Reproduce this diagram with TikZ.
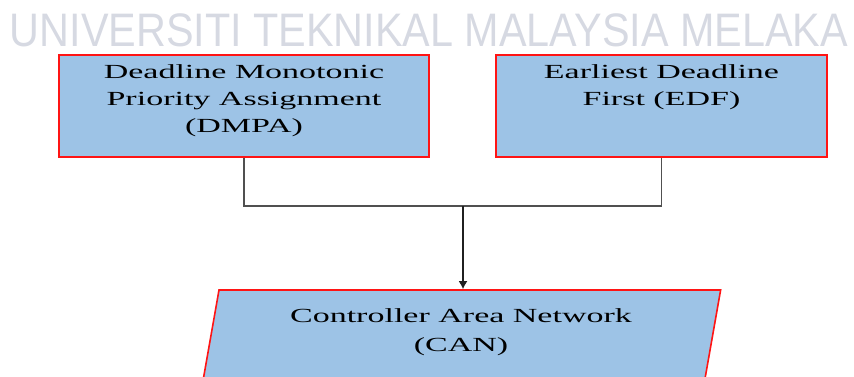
\documentclass[tikz,border=0pt]{standalone}
\usepackage{fontspec}
\usepackage{tikz}
\usetikzlibrary{arrows.meta,positioning,calc,shapes.geometric}
\setmainfont{Liberation Serif}
\newfontfamily\boxfont{Liberation Serif}[FakeStretch=1.7]
\newfontfamily\markfont{Liberation Sans}[FakeStretch=0.88]
\definecolor{BoxBlue}{RGB}{157,195,230}
\definecolor{BoxRed}{RGB}{255,20,20}
\definecolor{LinkGray}{RGB}{80,80,80}
\definecolor{MarkGray}{RGB}{214,217,226}

\begin{document}
\begin{tikzpicture}[x=1pt, y=-1pt,
    box/.style={draw=BoxRed, fill=BoxBlue, line width=1.6pt, inner sep=0pt, font=\boxfont\fontsize{20}{27}\selectfont},
    link/.style={draw=LinkGray, line width=1.5pt}]
        \useasboundingbox (0,0) rectangle (854,377);
        \node[MarkGray, font=\markfont\fontsize{47}{50}\selectfont] (mark) at (429,30) {UNIVERSITI TEKNIKAL MALAYSIA MELAKA};
        \node[box] (dmpa) at (244,106) {\parbox[c][102pt][t]{370pt}{\centering\vspace*{10pt}Deadline Monotonic\\Priority Assignment\\(DMPA)}};
        \node[box] (edf) at (661.5,106) {\parbox[c][102pt][t]{331pt}{\centering\vspace*{10pt}Earliest Deadline\\First (EDF)}};
        \node[box, trapezium, trapezium left angle=80, trapezium right angle=100] (can) at (461,340)
            {\parbox[c][100pt][t]{484pt}{\centering\vspace*{19pt}Controller Area Network\\[2pt](CAN)}};
        \coordinate (join) at (463,206);
        \draw[link] (dmpa.south) |- (edf.south |- join) -- (edf.south);
        \draw[link, -{Latex[length=8pt,width=9pt]}, LinkGray!40!black] (join) -- (join |- can.north);
      \end{tikzpicture}
\end{document}
